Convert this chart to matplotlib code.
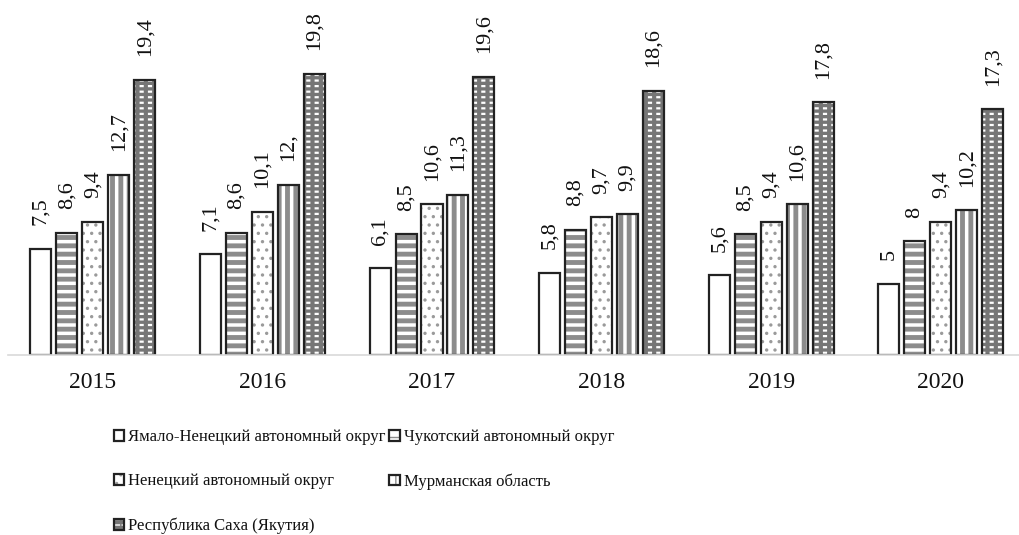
import matplotlib
matplotlib.use('Agg')
import matplotlib.pyplot as plt
from matplotlib.legend_handler import HandlerTuple
import numpy as np

years = ['2015', '2016', '2017', '2018', '2019', '2020']
regions = ['Ямало-Ненецкий автономный округ', 'Чукотский автономный округ',
           'Ненецкий автономный округ', 'Мурманская область',
           'Республика Саха (Якутия)']

yamal = [7.5, 7.1, 6.1, 5.8, 5.6, 5.0]
chukotka = [8.6, 8.6, 8.5, 8.8, 8.5, 8.0]
nenets = [9.4, 10.1, 10.6, 9.7, 9.4, 9.4]
murmansk = [12.7, 12.0, 11.3, 9.9, 10.6, 10.2]
sakha = [19.4, 19.8, 19.6, 18.6, 17.8, 17.3]

# data labels as printed on the chart (note "12," and integers without comma)
yamal_lbl = ['7,5', '7,1', '6,1', '5,8', '5,6', '5']
chukotka_lbl = ['8,6', '8,6', '8,5', '8,8', '8,5', '8']
nenets_lbl = ['9,4', '10,1', '10,6', '9,7', '9,4', '9,4']
murmansk_lbl = ['12,7', '12,', '11,3', '9,9', '10,6', '10,2']
sakha_lbl = ['19,4', '19,8', '19,6', '18,6', '17,8', '17,3']

series = [yamal, chukotka, nenets, murmansk, sakha]
series_lbl = [yamal_lbl, chukotka_lbl, nenets_lbl, murmansk_lbl, sakha_lbl]

# hatch layers per series: (face colour, hatch, hatch colour, hatch linewidth)
layers = [
    [('white', None, 'white', 1.0)],
    [('white', '--', '#8c8c8c', 3.5)],
    [('white', '..', '#9a9a9a', 1.2)],
    [('white', '||', '#8c8c8c', 3.5)],
    [('#767676', '---', 'white', 1.6), ('none', '||', '#767676', 3.0)],
]

plt.rcParams['font.family'] = ['Liberation Serif', 'DejaVu Serif']


def hatched_bar(ax, pos, vals, width, face, hatch, hcol, hlw):
    with plt.rc_context({'hatch.linewidth': hlw}):
        bars = ax.bar(pos, vals, width, color=face, hatch=hatch,
                      edgecolor=hcol, linewidth=0)
        for b in bars:
            if hasattr(b, 'set_hatch_linewidth'):
                b.set_hatch_linewidth(hlw)
    return bars


fig = plt.figure(figsize=(10.2, 5.35), dpi=100)
ax = fig.add_axes([8 / 1020, 1 - 355 / 535, 1012 / 1020, 355 / 535])

x = np.arange(len(years))
width = 0.124
pitch = 0.153

handles = []
for i, (vals, lbls) in enumerate(zip(series, series_lbl)):
    pos = x + (i - 2) * pitch
    parts = []
    for face, hatch, hcol, hlw in layers[i]:
        bars = hatched_bar(ax, pos, vals, width, face, hatch, hcol, hlw)
        parts.append(bars[0])
    outline = ax.bar(pos, vals, width, fill=False, edgecolor='#222222',
                     linewidth=1.6)
    parts.append(outline[0])
    handles.append(tuple(parts))
    for p, v, t in zip(pos, vals, lbls):
        ax.annotate(t, (p, v), xytext=(0, 17), textcoords='offset points',
                    rotation=90, ha='center', va='bottom', fontsize=16,
                    color='#111111')

ax.set_xlim(-0.5, -0.5 + 1012 / 169.6)
ax.set_ylim(0, 25)
ax.set_xticks(x)
ax.set_xticklabels(years, fontsize=17)
ax.tick_params(axis='x', length=0, pad=12, colors='#111111')
ax.set_yticks([])
for s in ['top', 'right', 'left']:
    ax.spines[s].set_visible(False)
ax.spines['bottom'].set_color('#d9d9d9')
ax.spines['bottom'].set_linewidth(1.2)

order = [0, 2, 4, 1, 3]
leg = fig.legend([handles[k] for k in order], [regions[k] for k in order],
                 handler_map={tuple: HandlerTuple(ndivide=1, pad=0)},
                 ncol=2, loc='upper left', bbox_to_anchor=(114 / 1020, 1 - 429 / 535),
                 frameon=False, fontsize=12, handlelength=0.62, handleheight=0.62,
                 handletextpad=0.25, columnspacing=0.2, labelspacing=1.7,
                 borderaxespad=0, borderpad=0)
for t in leg.get_texts():
    t.set_color('#111111')

fig.savefig('out.png', dpi=100)
